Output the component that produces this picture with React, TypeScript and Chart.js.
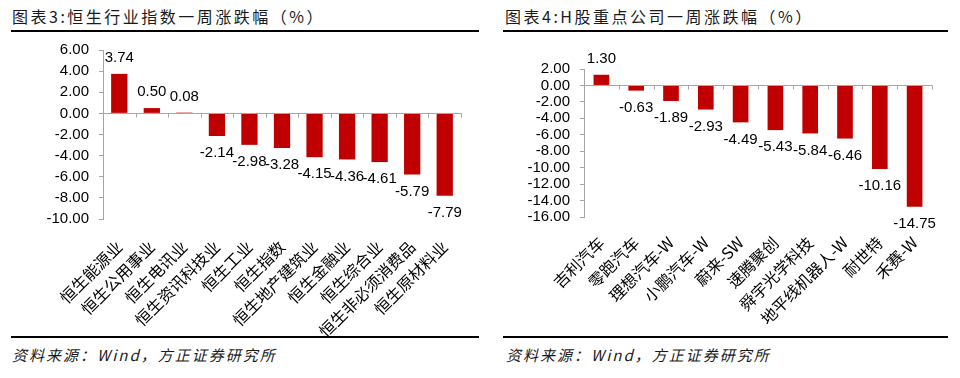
import React, { useEffect, useRef } from "react";
import { Chart, registerables } from "chart.js";

Chart.register(...registerables);

// ---------- data ----------
const leftCategories = [
  "恒生能源业",
  "恒生公用事业",
  "恒生电讯业",
  "恒生资讯科技业",
  "恒生工业",
  "恒生指数",
  "恒生地产建筑业",
  "恒生金融业",
  "恒生综合业",
  "恒生非必须消费品",
  "恒生原材料业",
];
const leftValues = [3.74, 0.5, 0.08, -2.14, -2.98, -3.28, -4.15, -4.36, -4.61, -5.79, -7.79];
const leftTicks = [6, 4, 2, 0, -2, -4, -6, -8, -10];

const rightCategories = [
  "吉利汽车",
  "零跑汽车",
  "理想汽车-W",
  "小鹏汽车-W",
  "蔚来-SW",
  "速腾聚创",
  "舜宇光学科技",
  "地平线机器人-W",
  "耐世特",
  "禾赛-W",
];
const rightValues = [1.3, -0.63, -1.89, -2.93, -4.49, -5.43, -5.84, -6.46, -10.16, -14.75];
const rightTicks = [2, 0, -2, -4, -6, -8, -10, -12, -14, -16];

const leftTitle = "图表3:恒生行业指数一周涨跌幅（%）";
const rightTitle = "图表4:H股重点公司一周涨跌幅（%）";
const sourceText = "资料来源：Wind，方正证券研究所";

// ---------- styles ----------
const BAR_COLOR = "#C00000";
const AXIS_COLOR = "#a6a6a6";
const NUM_FONT = '"Liberation Sans", Arial, sans-serif';
const CJK_FONT = '"Noto Sans CJK SC", sans-serif';

const zeroAxisPlugin = {
  id: "zeroAxis",
  afterDatasetsDraw(chart: any) {
    const { ctx, chartArea, scales } = chart;
    const y = scales.y;
    const y0 = Math.round(y.getPixelForValue(0)) + 0.5;
    const n = chart.data.labels.length;
    ctx.save();
    ctx.strokeStyle = AXIS_COLOR;
    ctx.lineWidth = 1;
    ctx.beginPath();
    ctx.moveTo(chartArea.left, y0);
    ctx.lineTo(chartArea.right, y0);
    for (let i = 1; i <= n; i++) {
      const px = Math.round(chartArea.left + ((chartArea.right - chartArea.left) * i) / n) + 0.5;
      ctx.moveTo(px, y0);
      ctx.lineTo(px, y0 + 4);
    }
    ctx.stroke();
    ctx.restore();
  },
};

const dataLabelPlugin = {
  id: "dataLabels",
  afterDatasetsDraw(chart: any) {
    const { ctx } = chart;
    const meta = chart.getDatasetMeta(0);
    const values = chart.data.datasets[0].data as number[];
    ctx.save();
    ctx.font = `15px ${NUM_FONT}`;
    ctx.fillStyle = "#000";
    ctx.textAlign = "center";
    ctx.textBaseline = "middle";
    meta.data.forEach((el: any, i: number) => {
      const v = values[i];
      const yy = v >= 0 ? el.y - 16 : el.y + 17;
      ctx.fillText(v.toFixed(2), el.x, yy);
    });
    ctx.restore();
  },
};

type Opts = {
  barPct: number;
  padRight: number;
  padTop: number;
  xHeight: number;
  yWidth: number;
  xPad: number;
};

function makeConfig(labels: string[], values: number[], ticks: number[], o: Opts): any {
  return {
    type: "bar",
    data: {
      labels,
      datasets: [
        {
          data: values,
          backgroundColor: BAR_COLOR,
          borderWidth: 0,
          categoryPercentage: 1,
          barPercentage: o.barPct,
        },
      ],
    },
    options: {
      animation: false,
      responsive: false,
      devicePixelRatio: 1,
      layout: { padding: { left: 0, right: o.padRight, top: o.padTop, bottom: 0 } },
      plugins: {
        legend: { display: false },
        tooltip: { enabled: false },
        title: { display: false },
      },
      scales: {
        x: {
          grid: { display: false, drawTicks: false },
          border: { display: false },
          ticks: {
            autoSkip: false,
            maxRotation: 45,
            minRotation: 45,
            padding: o.xPad,
            color: "#000",
            font: { family: CJK_FONT, size: 16 },
          },
          afterFit: (s: any) => {
            s.height = o.xHeight;
          },
        },
        y: {
          min: ticks[ticks.length - 1],
          max: ticks[0],
          afterBuildTicks: (s: any) => {
            s.ticks = ticks.map((v) => ({ value: v }));
          },
          grid: { drawOnChartArea: false, drawTicks: true, tickLength: 4, color: AXIS_COLOR },
          border: { display: true, color: AXIS_COLOR, width: 1 },
          ticks: {
            autoSkip: false,
            padding: 10,
            color: "#000",
            font: { family: NUM_FONT, size: 15 },
            callback: (v: any) => Number(v).toFixed(2),
          },
          afterFit: (s: any) => {
            s.width = o.yWidth;
          },
        },
      },
    },
    plugins: [zeroAxisPlugin, dataLabelPlugin],
  };
}

function BarChart(props: { labels: string[]; values: number[]; ticks: number[]; opts: Opts }) {
  const ref = useRef<HTMLCanvasElement>(null);
  useEffect(() => {
    if (!ref.current) return;
    const chart = new Chart(ref.current, makeConfig(props.labels, props.values, props.ticks, props.opts));
    return () => chart.destroy();
  }, []);
  return <canvas ref={ref} width={480} height={306} style={{ display: "block" }} />;
}

const titleStyle: React.CSSProperties = {
  position: "absolute",
  top: 6,
  font: `16px ${CJK_FONT}`,
  lineHeight: "20px",
  letterSpacing: "2.5px",
  color: "#1a1a1a",
  whiteSpace: "nowrap",
};

const sourceStyle: React.CSSProperties = {
  position: "absolute",
  top: 345,
  font: `italic 15px ${CJK_FONT}`,
  lineHeight: "20px",
  letterSpacing: "2px",
  color: "#1a1a1a",
  whiteSpace: "nowrap",
};

const lineStyle = (left: number, top: number, width: number): React.CSSProperties => ({
  position: "absolute",
  left,
  top,
  width,
  height: 2,
  background: "#000",
});

export default function App() {
  return (
    <div
      style={{
        position: "fixed",
        left: 0,
        top: 0,
        width: 960,
        height: 378,
        background: "#fff",
        overflow: "hidden",
      }}
    >
      <div style={{ ...titleStyle, left: 12 }}>{leftTitle}</div>
      <div style={{ ...titleStyle, left: 505 }}>{rightTitle}</div>
      <div style={lineStyle(11, 30, 468)} />
      <div style={lineStyle(503, 30, 445)} />

      <div style={{ position: "absolute", left: 0, top: 31 }}>
        <BarChart
          labels={leftCategories}
          values={leftValues}
          ticks={leftTicks}
          opts={{ barPct: 0.5, padRight: 19, padTop: 12, xHeight: 118, yWidth: 103, xPad: 18 }}
        />
      </div>
      <div style={{ position: "absolute", left: 480, top: 31 }}>
        <BarChart
          labels={rightCategories}
          values={rightValues}
          ticks={rightTicks}
          opts={{ barPct: 0.45, padRight: 28, padTop: 38, xHeight: 120, yWidth: 104, xPad: 16 }}
        />
      </div>

      <div style={lineStyle(11, 336, 468)} />
      <div style={lineStyle(503, 336, 445)} />
      <div style={{ ...sourceStyle, left: 12 }}>{sourceText}</div>
      <div style={{ ...sourceStyle, left: 506 }}>{sourceText}</div>
    </div>
  );
}
